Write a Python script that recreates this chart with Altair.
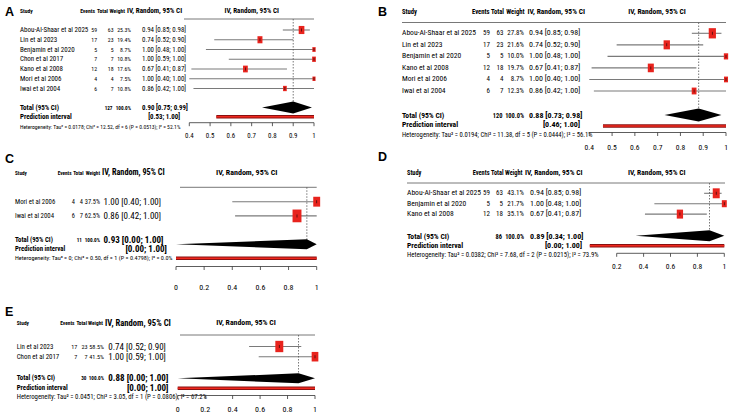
import altair as alt
import pandas as pd

W, H = 743, 419
FONT = "Roboto Condensed, Noto Sans Condensed, Liberation Sans Narrow, Arial Narrow, DejaVu Sans Condensed, Liberation Sans, Arial, sans-serif"
SQUARE = "M-0.7,-1L0.7,-1L0.7,1L-0.7,1Z"

# ---------------- Panel A ----------------
studies_A = ["Abou-Al-Shaar et al 2025", "Lin et al 2023", "Benjamin et al 2020", "Chon et al 2017",
             "Kano et al 2008", "Mori et al 2006", "Iwai et al 2004"]
events_A = [59, 17, 5, 7, 12, 4, 6]
totals_A = [63, 23, 5, 7, 18, 4, 7]
weights_A = [25.3, 19.4, 8.7, 10.8, 17.6, 7.5, 10.8]
est_A = [0.94, 0.74, 1.00, 1.00, 0.67, 1.00, 0.86]
lo_A = [0.85, 0.52, 0.48, 0.59, 0.41, 0.40, 0.42]
hi_A = [0.98, 0.90, 1.00, 1.00, 0.87, 1.00, 1.00]
pooled_A = [0.90, 0.75, 0.99]
pi_A = [0.53, 1.00]
total_n_A = 127
het_A = "Heterogeneity: Tau\u00b2 = 0.0178; Chi\u00b2 = 12.52, df = 6 (P = 0.0513); I\u00b2 = 52.1%"
ticks_A = [0.4, 0.5, 0.6, 0.7, 0.8, 0.9, 1.0]

# ---------------- Panel B ----------------
studies_B = ["Abou-Al-Shaar et al 2025", "Lin et al 2023", "Benjamin et al 2020",
             "Kano et al 2008", "Mori et al 2006", "Iwai et al 2004"]
events_B = [59, 17, 5, 12, 4, 6]
totals_B = [63, 23, 5, 18, 4, 7]
weights_B = [27.8, 21.6, 10.0, 19.7, 8.7, 12.3]
est_B = [0.94, 0.74, 1.00, 0.67, 1.00, 0.86]
lo_B = [0.85, 0.52, 0.48, 0.41, 0.40, 0.42]
hi_B = [0.98, 0.90, 1.00, 0.87, 1.00, 1.00]
pooled_B = [0.88, 0.73, 0.98]
pi_B = [0.46, 1.00]
total_n_B = 120
het_B = "Heterogeneity: Tau\u00b2 = 0.0194; Chi\u00b2 = 11.38, df = 5 (P = 0.0444); I\u00b2 = 56.1%"
ticks_B = [0.4, 0.5, 0.6, 0.7, 0.8, 0.9, 1.0]

# ---------------- Panel C ----------------
studies_C = ["Mori et al 2006", "Iwai et al 2004"]
events_C = [4, 6]
totals_C = [4, 7]
weights_C = [37.5, 62.5]
est_C = [1.00, 0.86]
lo_C = [0.40, 0.42]
hi_C = [1.00, 1.00]
pooled_C = [0.93, 0.00, 1.00]
pi_C = [0.00, 1.00]
total_n_C = 11
het_C = "Heterogeneity: Tau\u00b2 = 0; Chi\u00b2 = 0.50, df = 1 (P = 0.4798); I\u00b2 = 0.0%"
ticks_C = [0, 0.2, 0.4, 0.6, 0.8, 1.0]

# ---------------- Panel D ----------------
studies_D = ["Abou-Al-Shaar et al 2025", "Benjamin et al 2020", "Kano et al 2008"]
events_D = [59, 5, 12]
totals_D = [63, 5, 18]
weights_D = [43.1, 21.7, 35.1]
est_D = [0.94, 1.00, 0.67]
lo_D = [0.85, 0.48, 0.41]
hi_D = [0.98, 1.00, 0.87]
pooled_D = [0.89, 0.34, 1.00]
pi_D = [0.00, 1.00]
total_n_D = 86
het_D = "Heterogeneity: Tau\u00b2 = 0.0382; Chi\u00b2 = 7.68, df = 2 (P = 0.0215); I\u00b2 = 73.9%"
ticks_D = [0.2, 0.4, 0.6, 0.8, 1.0]

# ---------------- Panel E ----------------
studies_E = ["Lin et al 2023", "Chon et al 2017"]
events_E = [17, 7]
totals_E = [23, 7]
weights_E = [58.5, 41.5]
est_E = [0.74, 1.00]
lo_E = [0.52, 0.59]
hi_E = [0.90, 1.00]
pooled_E = [0.88, 0.00, 1.00]
pi_E = [0.00, 1.00]
total_n_E = 30
het_E = "Heterogeneity: Tau\u00b2 = 0.0451; Chi\u00b2 = 3.05, df = 1 (P = 0.0806); I\u00b2 = 67.2%"
ticks_E = [0, 0.2, 0.4, 0.6, 0.8, 1.0]

total_weight_label = "100.0%"

# ---------------- layout (pixels) ----------------
LA = dict(letter=(5, 11.5), x_study=20, x_events=97, x_total=113.5, x_weight=131, x_ci=142, x_pi=180,
          h_events=95, h_total=108, h_weight=125, h_iv=127,
          x0=189.3, x1=314, v0=0.4, v1=1.0, plot_head=251.7, hline=(184, 314),
          y_head=10.7, y_hline=19, y_first=30, dy=9.75, y_total_txt=108, y_pi_txt=117.3, y_het=127,
          y_total=107.5, y_pi=116.8, y_axis=122.7, y_lab=136,
          fs=7.0, fs_head=5.6, fs_ihead=7.2, fs_num=5.8, fs_tot=5.2, fs_ci=6.9, fs_phead=7.1,
          fs_het=5.6, fs_tick=6.9, sq=260, dh=6)
LB = dict(letter=(378, 12), x_study=402, x_events=490, x_total=503.5, x_weight=524, x_ci=529, x_pi=580,
          h_events=489.5, h_total=504, h_weight=524.5, h_iv=527.5,
          x0=589.3, x1=726, v0=0.4, v1=1.0, plot_head=657, hline=(402, 726),
          y_head=11.7, y_hline=22.5, y_first=33.3, dy=11.54, y_total_txt=115.5, y_pi_txt=125.3, y_het=135.3,
          y_total=115, y_pi=126, y_axis=132.5, y_lab=148.3,
          fs=7.6, fs_head=6.6, fs_ihead=7.5, fs_num=7.0, fs_tot=6.4, fs_ci=8.0, fs_phead=7.5,
          fs_het=6.65, fs_tick=7.6, sq=380, dh=6.5)
LC = dict(letter=(5, 159), x_study=15, x_events=75, x_total=83, x_weight=100, x_ci=103.5, x_pi=167,
          h_events=71.5, h_total=83.5, h_weight=100, h_iv=102,
          x0=176, x1=316.7, v0=0.0, v1=1.0, plot_head=246.7, hline=(180, 316.7),
          y_head=173.3, y_hline=187.3, y_first=201.7, dy=14.2, y_total_txt=240, y_pi_txt=249.3, y_het=258.3,
          y_total=244.2, y_pi=258.3, y_axis=266.5, y_lab=288.3,
          fs=6.8, fs_head=5.2, fs_ihead=8.2, fs_num=6.4, fs_tot=5.2, fs_ci=9.0, fs_phead=8.0,
          fs_het=6.2, fs_tick=8.0, sq=260, dh=5)
LD = dict(letter=(378, 157), x_study=407, x_events=490, x_total=503, x_weight=524, x_ci=530, x_pi=582,
          h_events=489.5, h_total=503.5, h_weight=522.5, h_iv=525,
          x0=589.8, x1=724.3, v0=0.0, v1=1.0, plot_head=656.7, hline=(407, 725),
          y_head=173.3, y_hline=183, y_first=193.3, dy=10.4, y_total_txt=236.7, y_pi_txt=246, y_het=255,
          y_total=235.7, y_pi=245.7, y_axis=253.3, y_lab=266.7,
          fs=7.6, fs_head=6.3, fs_ihead=7.5, fs_num=7.0, fs_tot=6.4, fs_ci=8.0, fs_phead=7.5,
          fs_het=6.8, fs_tick=7.6, sq=230, dh=5.5)
LE = dict(letter=(5, 311.7), x_study=16.7, x_events=77.3, x_total=87.5, x_weight=104, x_ci=108.3, x_pi=168.5,
          h_events=74.5, h_total=87, h_weight=103, h_iv=105,
          x0=177.7, x1=315, v0=0.0, v1=1.0, plot_head=246, hline=(180, 315),
          y_head=323.3, y_hline=335, y_first=346.5, dy=10.2, y_total_txt=378.3, y_pi_txt=387.7, y_het=396.7,
          y_total=378.3, y_pi=388.3, y_axis=395.5, y_lab=410,
          fs=6.9, fs_head=5.4, fs_ihead=8.6, fs_num=6.2, fs_tot=5.2, fs_ci=9.0, fs_phead=7.8,
          fs_het=6.75, fs_tick=8.0, sq=220, dh=5)


def fmt_ci(e, l, h):
    return f"{e:.2f} [{l:.2f}; {h:.2f}]"


def build_panel(letter, studies, events, totals, weights, est, lo, hi,
                total_n, pooled, pi, het, ticks, L):
    n = len(studies)
    yf, dy = L["y_first"], L["dy"]

    def R(px):
        return (px - yf) / dy

    ysc = alt.Scale(domain=[0, 1], range=[yf, yf + dy], nice=False, zero=False)
    xsc = alt.Scale(domain=[L["v0"], L["v1"]], range=[L["x0"], L["x1"]], nice=False, zero=False)

    def Y(f):
        return alt.Y(f"{f}:Q", scale=ysc, axis=None)

    def X(f):
        return alt.X(f"{f}:Q", scale=xsc, axis=None)

    rows = pd.DataFrame({
        "study": studies,
        "events": [str(v) for v in events],
        "total": [str(v) for v in totals],
        "weight": weights,
        "wtxt": [f"{w:.1f}%" for w in weights],
        "est": est, "lo": lo, "hi": hi,
        "citxt": [fmt_ci(e, l, h) for e, l, h in zip(est, lo, hi)],
        "row": list(range(n)),
    })
    summ = pd.DataFrame({
        "r_letter": [R(L["letter"][1])],
        "r_head": [R(L["y_head"])],
        "r_hline": [R(L["y_hline"])],
        "r_tot_txt": [R(L["y_total_txt"])],
        "r_pi_txt": [R(L["y_pi_txt"])],
        "r_het": [R(L["y_het"])],
        "r_tot": [R(L["y_total"])],
        "r_pi": [R(L["y_pi"])],
        "r_axis": [R(L["y_axis"])],
        "total_n": [str(total_n)],
        "wsum": [total_weight_label],
        "pooled_txt": [fmt_ci(*pooled)],
        "p_est": [pooled[0]],
        "pi_lo": [pi[0]], "pi_hi": [pi[1]],
        "pi_txt": [f"[{pi[0]:.2f}; {pi[1]:.2f}]"],
        "het": [het],
        "t0": [ticks[0]], "t1": [ticks[-1]],
    })
    tk = pd.DataFrame({
        "v": ticks,
        "lab": [f"{t:g}" for t in ticks],
        "ya": [R(L["y_axis"])] * len(ticks),
        "yb": [R(L["y_axis"] + 3.5)] * len(ticks),
        "yl": [R(L["y_lab"])] * len(ticks),
    })

    def txt(data, yfield, x, text, size, align="left", bold=False, font=FONT):
        enc = dict(x=alt.value(x), y=Y(yfield))
        if text.startswith("@"):
            enc["text"] = alt.Text(text[1:] + ":N")
        else:
            enc["text"] = alt.value(text)
        return alt.Chart(data).mark_text(
            align=align, baseline="middle", font=font, fontSize=size,
            fontWeight="bold" if bold else "normal", color="black").encode(**enc)

    fs, fh, fn, fc = L["fs"], L["fs_head"], L["fs_num"], L["fs_ci"]
    layers = [
        txt(summ, "r_letter", L["letter"][0], letter, 12.5, bold=True,
            font="Liberation Sans, Arial, sans-serif"),
        txt(summ, "r_head", L["x_study"], "Study", fh, bold=True),
        txt(summ, "r_head", L["h_events"], "Events", fh, align="right", bold=True),
        txt(summ, "r_head", L["h_total"], "Total", fh, align="right", bold=True),
        txt(summ, "r_head", L["h_weight"], "Weight", fh, align="right", bold=True),
        txt(summ, "r_head", L["h_iv"], "IV, Random, 95% CI", L["fs_ihead"], align="left", bold=True),
        txt(summ, "r_head", L["plot_head"], "IV, Random, 95% CI", L["fs_phead"], align="center", bold=True),
        txt(rows, "row", L["x_study"], "@study", fs),
        txt(rows, "row", L["x_events"], "@events", fn, align="right"),
        txt(rows, "row", L["x_total"], "@total", fn, align="right"),
        txt(rows, "row", L["x_weight"], "@wtxt", fn, align="right"),
        txt(rows, "row", L["x_ci"], "@citxt", fc),
        txt(summ, "r_tot_txt", L["x_study"], "Total (95% CI)", fs, bold=True),
        txt(summ, "r_tot_txt", L["x_total"] - 1, "@total_n", L["fs_tot"], align="right", bold=True),
        txt(summ, "r_tot_txt", L["x_weight"], "@wsum", L["fs_tot"], align="right", bold=True),
        txt(summ, "r_tot_txt", L["x_ci"], "@pooled_txt", fc, bold=True),
        txt(summ, "r_pi_txt", L["x_study"], "Prediction interval", fs, bold=True),
        txt(summ, "r_pi_txt", L["x_pi"], "@pi_txt", fc, align="right", bold=True),
        txt(summ, "r_het", L["x_study"], "@het", L["fs_het"]),
    ]

    hline = alt.Chart(summ).mark_rule(color="#555555", strokeWidth=0.8).encode(
        x=alt.value(L["hline"][0]), x2=alt.value(L["hline"][1]), y=Y("r_hline"))

    ci = alt.Chart(rows).mark_rule(color="#7a7a7a", strokeWidth=1.1).encode(
        x=X("lo"), x2="hi:Q", y=Y("row"))
    vline = alt.Chart(summ).mark_rule(color="#555555", strokeWidth=0.8, strokeDash=[1.5, 1.5]).encode(
        x=X("p_est"), y=Y("r_hline"), y2="r_tot:Q")
    sq = alt.Chart(rows).mark_point(shape=SQUARE, filled=True, color="#e8231d", opacity=1,
                                    strokeWidth=0).encode(
        x=X("est"), y=Y("row"),
        size=alt.Size("weight:Q", scale=alt.Scale(domain=[0, 100], range=[0, L["sq"]]), legend=None))
    ctr = alt.Chart(rows).mark_tick(orient="vertical", color="black", size=3, thickness=0.8).encode(
        x=X("est"), y=Y("row"))

    rt = R(L["y_total"])
    h = L["dh"] / dy
    dia = pd.DataFrame({"x": [pooled[1], pooled[0], pooled[2]],
                        "ya": [rt, rt - h, rt], "yb": [rt, rt + h, rt]})
    diamond = alt.Chart(dia).mark_area(color="black", orient="vertical", opacity=1).encode(
        x=X("x"), y=Y("ya"), y2="yb:Q")

    pi_outer = alt.Chart(summ).mark_rule(color="#8a1010", strokeWidth=3.6).encode(
        x=X("pi_lo"), x2="pi_hi:Q", y=Y("r_pi"))
    pi_inner = alt.Chart(summ).mark_rule(color="#f0281e", strokeWidth=1.6).encode(
        x=X("pi_lo"), x2="pi_hi:Q", y=Y("r_pi"))

    axis_line = alt.Chart(summ).mark_rule(color="#333333", strokeWidth=0.8).encode(
        x=X("t0"), x2="t1:Q", y=Y("r_axis"))
    axis_ticks = alt.Chart(tk).mark_rule(color="#333333", strokeWidth=0.8).encode(
        x=X("v"), y=Y("ya"), y2="yb:Q")
    axis_labels = alt.Chart(tk).mark_text(font=FONT, fontSize=L["fs_tick"], color="black",
                                          align="center", baseline="middle").encode(
        x=X("v"), y=Y("yl"), text="lab:N")

    return alt.layer(*layers, hline, ci, vline, sq, ctr, diamond, pi_outer, pi_inner,
                     axis_line, axis_ticks, axis_labels)


pA = build_panel("A", studies_A, events_A, totals_A, weights_A, est_A, lo_A, hi_A,
                 total_n_A, pooled_A, pi_A, het_A, ticks_A, LA)
pB = build_panel("B", studies_B, events_B, totals_B, weights_B, est_B, lo_B, hi_B,
                 total_n_B, pooled_B, pi_B, het_B, ticks_B, LB)
pC = build_panel("C", studies_C, events_C, totals_C, weights_C, est_C, lo_C, hi_C,
                 total_n_C, pooled_C, pi_C, het_C, ticks_C, LC)
pD = build_panel("D", studies_D, events_D, totals_D, weights_D, est_D, lo_D, hi_D,
                 total_n_D, pooled_D, pi_D, het_D, ticks_D, LD)
pE = build_panel("E", studies_E, events_E, totals_E, weights_E, est_E, lo_E, hi_E,
                 total_n_E, pooled_E, pi_E, het_E, ticks_E, LE)

chart = alt.layer(pA, pB, pC, pD, pE).resolve_scale(
    x="independent", y="independent", size="independent"
).properties(
    width=W, height=H, padding=0, background="white",
    autosize=alt.AutoSizeParams(type="none")
).configure_view(stroke=None)

chart.save("out.html", embed_options={"renderer": "svg", "actions": False})
